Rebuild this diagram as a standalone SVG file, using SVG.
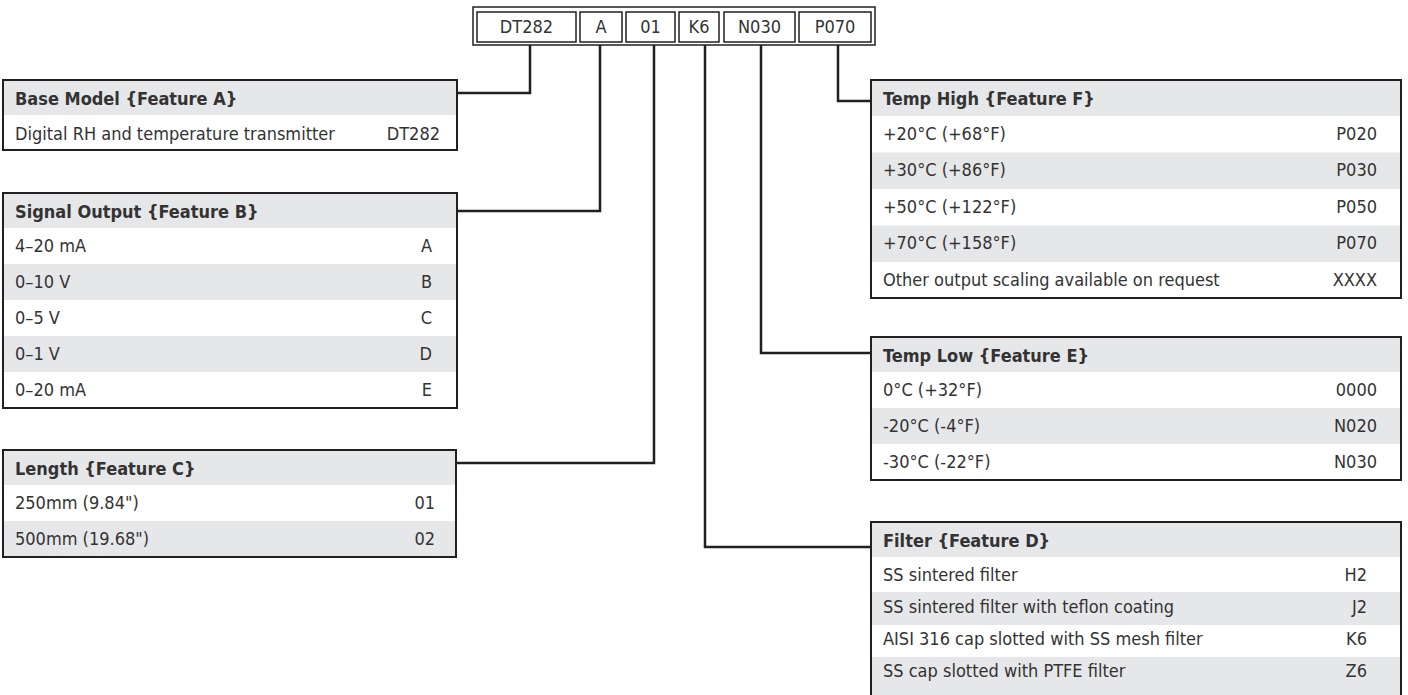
<svg xmlns="http://www.w3.org/2000/svg" width="1408" height="695" viewBox="0 0 1408 695">
<style>
.bg{fill:#ffffff}
.hdr{fill:#e6e7e8}
.frame{fill:none;stroke:#231f20;stroke-width:2}
.cell{fill:#ffffff;stroke:#231f20;stroke-width:1.5}
.t{font-family:'DejaVu Sans Condensed','DejaVu Sans',sans-serif;font-stretch:condensed;font-size:18px;fill:#333333}
.b{font-weight:bold}
.e{text-anchor:end}
.m{text-anchor:middle}
.conn{fill:none;stroke:#231f20;stroke-width:2.5}
</style>
<rect x="0" y="0" width="1408" height="695" fill="#ffffff"/>

<g id="model-code">
<rect class="cell" x="473" y="7" width="402" height="38"/>
<rect class="cell" x="477" y="12" width="99" height="30"/>
<rect class="cell" x="580" y="12" width="42" height="30"/>
<rect class="cell" x="626" y="12" width="49" height="30"/>
<rect class="cell" x="679" y="12" width="40" height="30"/>
<rect class="cell" x="724" y="12" width="71" height="30"/>
<rect class="cell" x="799" y="12" width="72" height="30"/>
<text class="t m" x="526.5" y="33">DT282</text>
<text class="t m" x="601" y="33">A</text>
<text class="t m" x="650.5" y="33">01</text>
<text class="t m" x="699" y="33">K6</text>
<text class="t m" x="759.5" y="33">N030</text>
<text class="t m" x="835" y="33">P070</text>
</g>

<g id="connectors">
<path class="conn" d="M530,45 V93 H457"/>
<path class="conn" d="M600,45 V211 H457"/>
<path class="conn" d="M654,45 V463 H456"/>
<path class="conn" d="M705,45 V547 H871"/>
<path class="conn" d="M761,45 V353 H871"/>
<path class="conn" d="M838,45 V101 H871"/>
</g>

<g id="base-model">
<rect class="bg" x="3" y="80" width="454" height="70"/>
<rect class="hdr" x="3" y="80" width="454" height="35"/>
<rect class="frame" x="3" y="80" width="454" height="70"/>
<text class="t b" x="15" y="105">Base Model {Feature A}</text>
<text class="t" x="15" y="140">Digital RH and temperature transmitter</text>
<text class="t e" x="440" y="140">DT282</text>
</g>

<g id="signal-output">
<rect class="bg" x="3" y="193" width="454" height="215"/>
<rect class="hdr" x="3" y="193" width="454" height="35"/>
<rect class="hdr" x="3" y="264" width="454" height="36"/>
<rect class="hdr" x="3" y="336" width="454" height="36"/>
<rect class="frame" x="3" y="193" width="454" height="215"/>
<text class="t b" x="15" y="218">Signal Output {Feature B}</text>
<text class="t" x="15" y="252">4–20 mA</text>
<text class="t e" x="432" y="252">A</text>
<text class="t" x="15" y="288">0–10 V</text>
<text class="t e" x="432" y="288">B</text>
<text class="t" x="15" y="324">0–5 V</text>
<text class="t e" x="432" y="324">C</text>
<text class="t" x="15" y="360">0–1 V</text>
<text class="t e" x="432" y="360">D</text>
<text class="t" x="15" y="396">0–20 mA</text>
<text class="t e" x="432" y="396">E</text>
</g>

<g id="length">
<rect class="bg" x="3" y="450" width="453" height="107"/>
<rect class="hdr" x="3" y="450" width="453" height="35"/>
<rect class="hdr" x="3" y="521" width="453" height="36"/>
<rect class="frame" x="3" y="450" width="453" height="107"/>
<text class="t b" x="15" y="475">Length {Feature C}</text>
<text class="t" x="15" y="509">250mm (9.84")</text>
<text class="t e" x="435" y="509">01</text>
<text class="t" x="15" y="545">500mm (19.68")</text>
<text class="t e" x="435" y="545">02</text>
</g>

<g id="temp-high">
<rect class="bg" x="871" y="80" width="530" height="218"/>
<rect class="hdr" x="871" y="80" width="530" height="36"/>
<rect class="hdr" x="871" y="152.5" width="530" height="36.5"/>
<rect class="hdr" x="871" y="225.5" width="530" height="36.5"/>
<rect class="frame" x="871" y="80" width="530" height="218"/>
<text class="t b" x="883" y="105">Temp High {Feature F}</text>
<text class="t" x="883" y="140">+20°C (+68°F)</text>
<text class="t e" x="1377" y="140">P020</text>
<text class="t" x="883" y="176">+30°C (+86°F)</text>
<text class="t e" x="1377" y="176">P030</text>
<text class="t" x="883" y="213">+50°C (+122°F)</text>
<text class="t e" x="1377" y="213">P050</text>
<text class="t" x="883" y="249">+70°C (+158°F)</text>
<text class="t e" x="1377" y="249">P070</text>
<text class="t" x="883" y="286">Other output scaling available on request</text>
<text class="t e" x="1377" y="286">XXXX</text>
</g>

<g id="temp-low">
<rect class="bg" x="871" y="337" width="530" height="143"/>
<rect class="hdr" x="871" y="337" width="530" height="35"/>
<rect class="hdr" x="871" y="408" width="530" height="36"/>
<rect class="frame" x="871" y="337" width="530" height="143"/>
<text class="t b" x="883" y="362">Temp Low {Feature E}</text>
<text class="t" x="883" y="396">0°C (+32°F)</text>
<text class="t e" x="1377" y="396">0000</text>
<text class="t" x="883" y="432">-20°C (-4°F)</text>
<text class="t e" x="1377" y="432">N020</text>
<text class="t" x="883" y="468">-30°C (-22°F)</text>
<text class="t e" x="1377" y="468">N030</text>
</g>

<g id="filter">
<rect class="bg" x="871" y="522" width="530" height="180"/>
<rect class="hdr" x="871" y="522" width="530" height="35"/>
<rect class="hdr" x="871" y="592" width="530" height="33"/>
<rect class="hdr" x="871" y="657" width="530" height="45"/>
<rect class="frame" x="871" y="522" width="530" height="180"/>
<text class="t b" x="883" y="547">Filter {Feature D}</text>
<text class="t" x="883" y="581">SS sintered filter</text>
<text class="t e" x="1367" y="581">H2</text>
<text class="t" x="883" y="613">SS sintered filter with teflon coating</text>
<text class="t e" x="1367" y="613">J2</text>
<text class="t" x="883" y="645">AISI 316 cap slotted with SS mesh filter</text>
<text class="t e" x="1367" y="645">K6</text>
<text class="t" x="883" y="677">SS cap slotted with PTFE filter</text>
<text class="t e" x="1367" y="677">Z6</text>
</g>
</svg>
